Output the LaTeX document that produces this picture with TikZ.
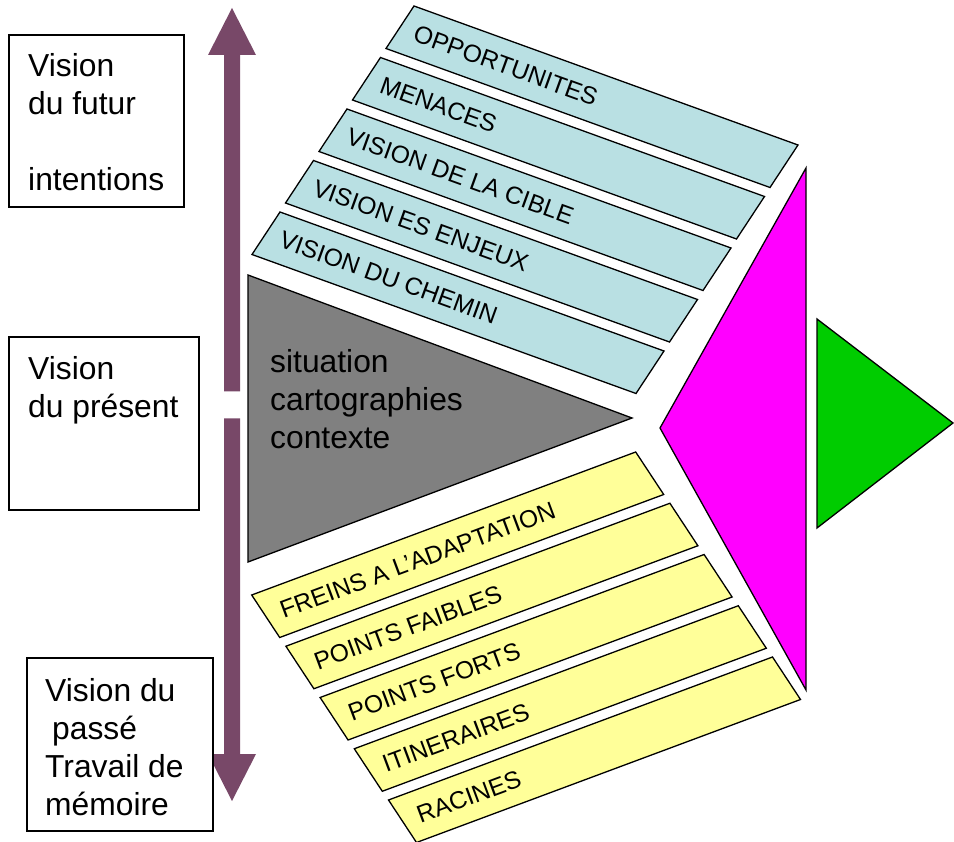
\documentclass[tikz,border=0pt]{standalone}
\usepackage{fontspec}
\setmainfont{Liberation Sans}
\definecolor{arrowpurple}{HTML}{784868}
\definecolor{stripblue}{HTML}{B9E0E3}
\definecolor{stripyellow}{HTML}{FFFF99}
\definecolor{trigray}{HTML}{808080}
\definecolor{trimagenta}{HTML}{FF00FF}
\definecolor{trigreen}{HTML}{00CC00}
\begin{document}
\begin{tikzpicture}[x=1pt,y=-1pt,
  outline/.style={draw=black,line width=1.3pt,line join=miter},
  bluestrip/.style={outline,fill=stripblue},
  yellowstrip/.style={outline,fill=stripyellow},
  lbl/.style={font=\fontsize{24.6}{29}\selectfont,inner sep=0pt,anchor=west},
  big/.style={font=\fontsize{31.8}{38}\selectfont,inner sep=0pt,anchor=base west},
  sidebox/.style={draw=black,line width=1.3pt,inner sep=0pt,fill=white},
  timearrow/.style={fill=arrowpurple,draw=none}
]
\useasboundingbox (0,0) rectangle (954,842);

% time arrow (two halves)
\fill[timearrow] (232,8) -- (256,55) -- (240,55) -- (240,391.5) -- (224,391.5) -- (224,55) -- (208,55) -- cycle;
\fill[timearrow] (224,418.5) -- (240,418.5) -- (240,754) -- (256,754) -- (232,801) -- (208,754) -- (224,754) -- cycle;

% left boxes
\node[sidebox,minimum width=175pt,minimum height=172pt] (box1) at (96.5,121) {};
\node[sidebox,minimum width=190pt,minimum height=173pt] (box2) at (104,423.5) {};
\node[sidebox,minimum width=186pt,minimum height=173pt] (box3) at (120,744.5) {};

\node[big] (f1) at (28,77) {Vision};
\node[big] (f2) at (28,115) {du futur};
\node[big] (f3) at (28,191) {intentions};
\node[big] (p1) at (28,380) {Vision};
\node[big] (p2) at (28,418) {du présent};
\node[big] (m1) at (45,701) {Vision du};
\node[big] (m2) at (52,739) {passé};
\node[big] (m3) at (45,777) {Travail de};
\node[big] (m4) at (45,815) {mémoire};

% blue strips
\foreach \i/\t in {0/OPPORTUNITES,1/MENACES,2/VISION DE LA CIBLE,3/VISION ES ENJEUX,4/VISION DU CHEMIN}{
  \coordinate (b\i) at ({414-33.5*\i},{6+51.5*\i});
  \draw[bluestrip] (b\i) -- ++(384,139) -- ++(-28,42.5) -- ++(-384,-139) -- cycle;
  \node[lbl,rotate=-19.9] (bt\i) at ({414-33.5*\i+0.5},{6+51.5*\i+26.5}) {\t};
}

% yellow strips
\foreach \i/\t in {0/FREINS A L’ADAPTATION,1/POINTS FAIBLES,2/POINTS FORTS,3/ITINERAIRES,4/RACINES}{
  \coordinate (y\i) at ({251.7+34.2*\i},{595+51.25*\i});
  \draw[yellowstrip] (y\i) -- ++(384,-143) -- ++(28,42.5) -- ++(-384,143) -- cycle;
  \node[lbl,rotate=20.4] (yt\i) at ({251.7+34.2*\i+29},{595+51.25*\i+16}) {\t};
}

% gray triangle
\draw[outline,fill=trigray] (248,275) -- (632,418) -- (248,562) -- cycle;
\node[big] (g1) at (270,373) {situation};
\node[big] (g2) at (270,411) {cartographies};
\node[big] (g3) at (270,449) {contexte};

% magenta triangle
\draw[outline,fill=trimagenta] (806,168) -- (660,428) -- (806,690) -- cycle;

% green triangle
\draw[outline,fill=trigreen] (817,319) -- (953,423) -- (817,528) -- cycle;
\end{tikzpicture}
\end{document}
